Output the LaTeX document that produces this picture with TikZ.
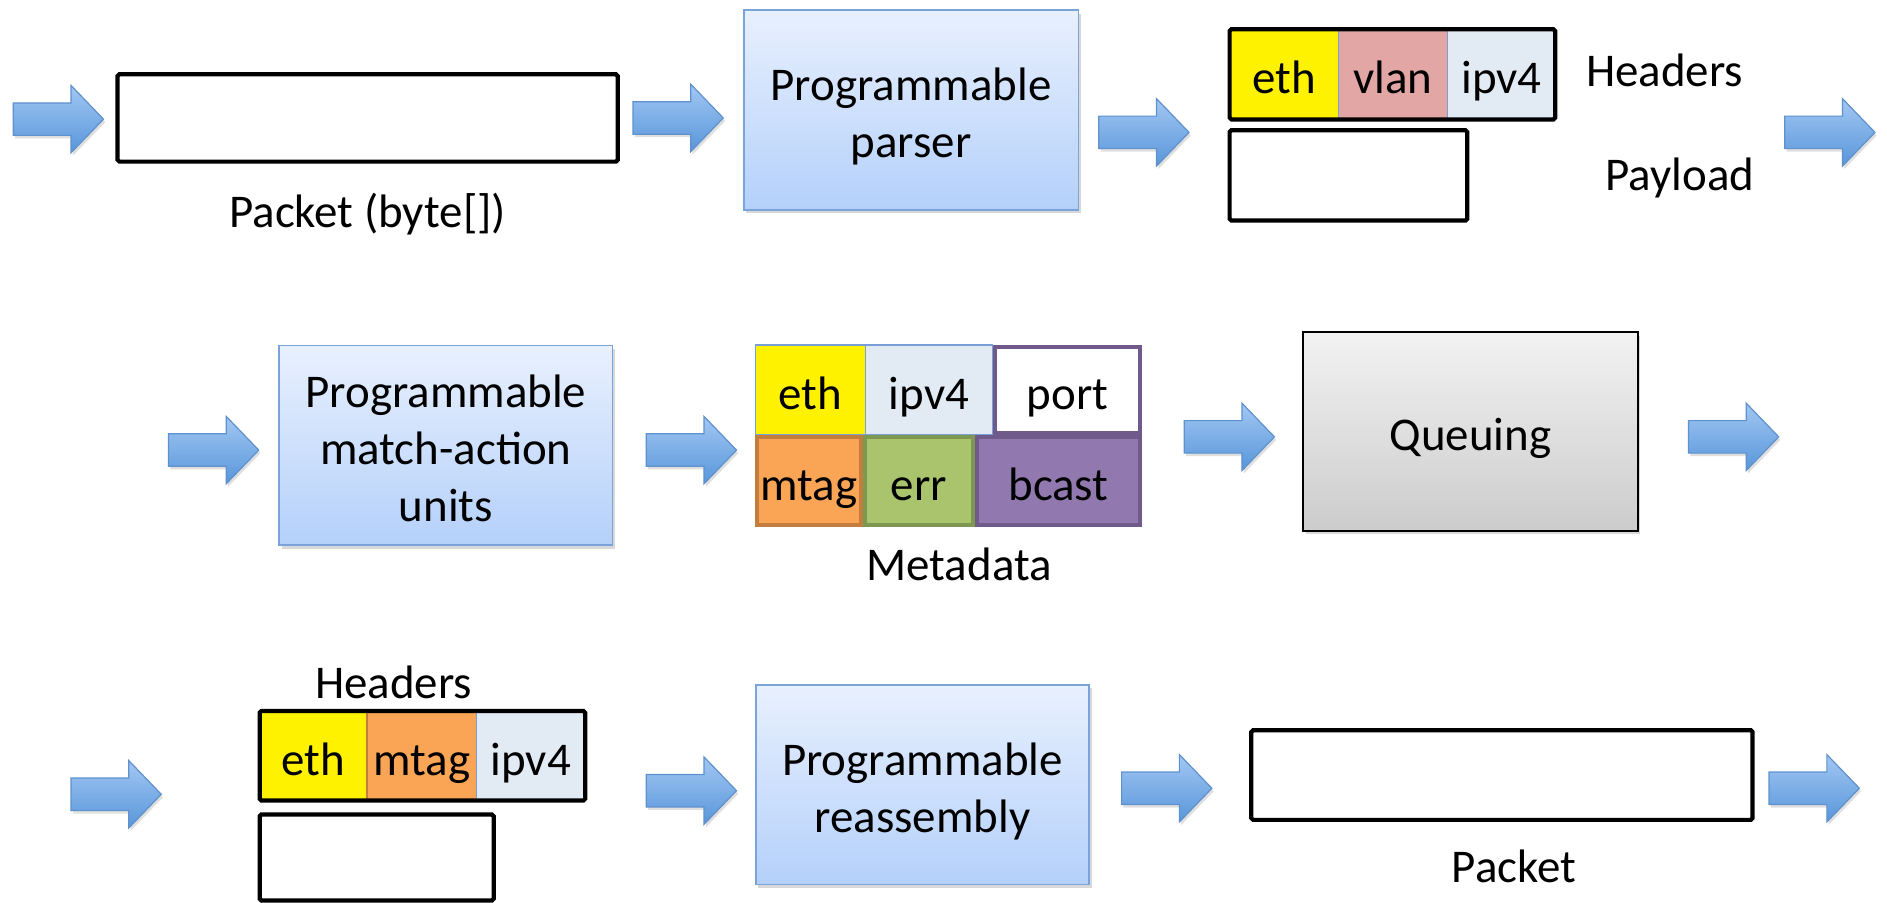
\documentclass[tikz,border=0pt]{standalone}
\usepackage{fontspec}
\setmainfont{Carlito}
\usetikzlibrary{shadows}
\definecolor{boxtop}{RGB}{232,240,254}
\definecolor{boxbot}{RGB}{180,208,250}
\definecolor{boxline}{RGB}{122,163,217}
\definecolor{arrtop}{RGB}{162,199,243}
\definecolor{arrbot}{RGB}{88,150,218}
\definecolor{arrline}{RGB}{95,145,205}
\definecolor{vlanc}{RGB}{226,166,165}
\definecolor{ipvc}{RGB}{226,234,244}
\definecolor{mtagc}{RGB}{249,165,85}
\definecolor{mtagl}{RGB}{195,125,60}
\definecolor{errc}{RGB}{169,196,108}
\definecolor{errl}{RGB}{125,152,80}
\definecolor{bcastc}{RGB}{145,121,176}
\definecolor{bcastl}{RGB}{112,90,140}
\definecolor{qtop}{RGB}{242,242,242}
\definecolor{qbot}{RGB}{204,204,204}
\definecolor{cellline}{RGB}{120,160,215}
\newcommand\topstrut{\rule{0pt}{41pt}}
\newcommand\botstrut{\rule[-9pt]{0pt}{9pt}}
\newcommand\blockarrow[2]{%
  \path[arrowsty] (#1,#2) ++(0,-13.5) -- ++(48,0) -- ++(0,-14.5) -- ++(27,28)
    -- ++(-27,28) -- ++(0,-14.5) -- ++(-48,0) -- cycle;}
\begin{document}
\begin{tikzpicture}[x=1pt,y=-1pt,
  txt/.style={font=\fontsize{39}{47}\selectfont, inner sep=0pt, outer sep=0pt},
  bluebox/.style={txt, draw=boxline, line width=1.3pt, top color=boxtop, bottom color=boxbot, align=center,
    drop shadow={opacity=0.3, shadow xshift=2pt, shadow yshift=-3pt}},
  graybox/.style={txt, draw=black, line width=1.5pt, top color=qtop, bottom color=qbot,
    text height=41pt, text depth=9pt,
    drop shadow={opacity=0.3, shadow xshift=2pt, shadow yshift=-3pt}},
  pkt/.style={draw=black, line width=3.5pt, rounded corners=1.5pt, inner sep=0pt, outer sep=0pt, anchor=north west},
  cell/.style={txt, anchor=north west, text height=32pt, text depth=0pt, line width=1pt},
  thickcell/.style={cell, line width=3.3pt},
  label/.style={txt, anchor=base},
  arrowsty/.style={top color=arrtop, bottom color=arrbot, draw=arrline, line width=1pt,
    drop shadow={opacity=0.25, shadow xshift=1.5pt, shadow yshift=-2.5pt}}
]
\fill[white] (0,0) rectangle (1568,750);
\useasboundingbox (0,0) rectangle (1568,750);

% ---------- row 1 ----------
\blockarrow{11}{99}
\node[pkt, fill=white, minimum width=415.6, minimum height=72.6] (pkt1) at (97.7,61.7) {};
\node[label] (pkt1lbl) at (305.5,189) {Packet (byte[])};
\blockarrow{526}{98}
\node[bluebox, minimum width=278, minimum height=166] (parser) at (757,91.4) {\topstrut Programmable\\parser\botstrut};
\blockarrow{913}{110}
\node[cell, fill=yellow, draw=cellline, minimum width=90.25, minimum height=75] (h1eth) at (1021.75,24.25) {eth};
\node[cell, fill=vlanc, draw=cellline, minimum width=91, minimum height=75] (h1vlan) at (1112,24.25) {vlan};
\node[cell, fill=ipvc, draw=cellline, minimum width=89.25, minimum height=75] (h1ipv4) at (1203,24.25) {ipv4};
\node[pkt, minimum width=270.5, minimum height=75] (hdr1) at (1021.75,24.25) {};
\node[pkt, fill=white, minimum width=197.5, minimum height=75] (pay1) at (1021.75,108.25) {};
\node[label, anchor=base west] (hdr1lbl) at (1318,72) {Headers};
\node[label, anchor=base west] (pay1lbl) at (1334,158) {Payload};
\blockarrow{1483}{110}

% ---------- row 2 ----------
\blockarrow{140}{374}
\node[bluebox, minimum width=277, minimum height=166] (mau) at (370.5,370) {\topstrut Programmable\\match-action\\units\botstrut};
\blockarrow{537}{374}
\node[cell, fill=yellow, draw=cellline, minimum width=91.5, minimum height=74.8] (meth) at (627.5,286.7) {eth};
\node[cell, fill=ipvc, draw=cellline, minimum width=106, minimum height=74.8] (mipv4) at (719,286.7) {ipv4};
\node[thickcell, fill=white, draw=bcastl, minimum width=120.7, minimum height=71.5] (mport) at (826.65,288.35) {port};
\node[thickcell, fill=mtagc, draw=mtagl, minimum width=86.2, minimum height=73.2] (mmtag) at (629.15,363.15) {mtag};
\node[thickcell, fill=errc, draw=errl, minimum width=89.7, minimum height=73.2] (merr) at (718.65,363.15) {err};
\node[thickcell, fill=bcastc, draw=bcastl, minimum width=135.7, minimum height=73.2] (mbcast) at (811.65,363.15) {bcast};
\node[label] (metalbl) at (797,482) {Metadata};
\blockarrow{984}{363}
\node[graybox, minimum width=278, minimum height=165] (queue) at (1222,358.5) {Queuing};
\blockarrow{1403}{363}

% ---------- row 3 ----------
\blockarrow{59}{660}
\node[label] (hdr3lbl) at (327,580) {Headers};
\node[cell, fill=yellow, draw=cellline, minimum width=89.25, minimum height=74.5] (h3eth) at (215.75,590.75) {eth};
\node[cell, fill=mtagc, draw=mtagl, minimum width=91, minimum height=74.5] (h3mtag) at (305,590.75) {mtag};
\node[cell, fill=ipvc, draw=cellline, minimum width=90.25, minimum height=74.5] (h3ipv4) at (396,590.75) {ipv4};
\node[pkt, minimum width=270.5, minimum height=74.5] (hdr3) at (215.75,590.75) {};
\node[pkt, fill=white, minimum width=194.5, minimum height=71.5] (pay3) at (215.75,676.75) {};
\blockarrow{537}{657}
\node[bluebox, minimum width=277, minimum height=166] (reasm) at (766.5,652) {\topstrut Programmable\\reassembly\botstrut};
\blockarrow{932}{655}
\node[pkt, fill=white, minimum width=416.5, minimum height=74.5] (pkt3) at (1039.75,606.75) {};
\node[label] (pkt3lbl) at (1258,733) {Packet};
\blockarrow{1470}{655}
\end{tikzpicture}
\end{document}
